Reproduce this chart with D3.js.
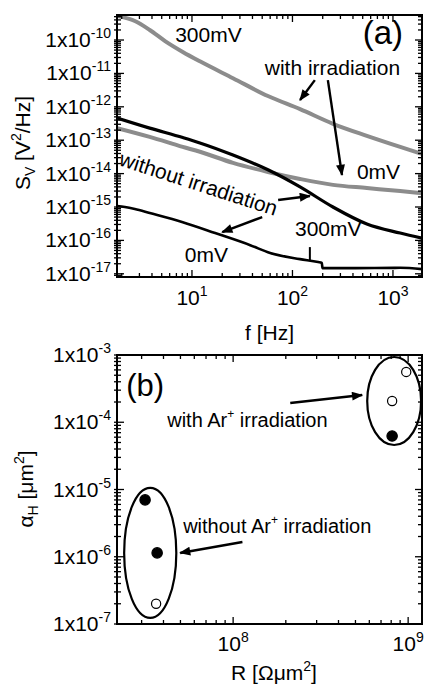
<!DOCTYPE html>
<html>
<head>
<meta charset="utf-8">
<script src="https://cdn.jsdelivr.net/npm/d3@7"></script>
<style>
  body { margin: 0; background: #fff; }
  svg { display: block; }
  text { font-family: "Liberation Sans", Arial, sans-serif; fill: #000; }
</style>
</head>
<body>
<svg width="424" height="689"></svg>
<script>
// ---- panel (a): noise spectra ----
var fGrey300 = [1.8, 2.7, 3.8, 5.4, 8.1, 12, 25.6, 57, 119, 253, 550, 1180, 1940];
var sGrey300 = [5.2e-10, 3.7e-10, 2.0e-10, 9.3e-11, 4.4e-11, 2.3e-11, 7.2e-12, 2.1e-12, 8.5e-13, 3.1e-13, 1.35e-13, 6.3e-14, 3.9e-14];

var fBlack300 = [1.8, 3.8, 8.1, 12, 25.6, 57, 119, 253, 550, 1180, 1940];
var sBlack300 = [4.6e-13, 2.3e-13, 1.2e-13, 8.3e-14, 3.6e-14, 1.3e-14, 4.0e-15, 1.0e-15, 3.1e-16, 1.66e-16, 1.17e-16];

var fGrey0 = [1.8, 3.8, 8.1, 12, 25.6, 57, 119, 253, 550, 1180, 1940];
var sGrey0 = [2.3e-13, 1.26e-13, 6.3e-14, 4.5e-14, 2.1e-14, 1.12e-14, 6.9e-15, 4.6e-15, 3.7e-15, 3.0e-15, 2.6e-15];

var fBlack0 = [1.8, 2.15, 2.7, 3.8, 8.1, 17, 38, 60, 119, 180, 196, 199, 372, 1180, 1940];
var sBlack0 = [1.07e-15, 1.0e-15, 8.7e-16, 6.6e-16, 3.5e-16, 1.66e-16, 7.2e-17, 4.2e-17, 2.75e-17, 2.24e-17, 2.1e-17, 1.48e-17, 1.48e-17, 1.51e-17, 1.38e-17];

var fTicks = [10, 100, 1000];
var sTicks = [-10, -11, -12, -13, -14, -15, -16, -17];

// annotations, in data units: [f1, s1, f2, s2]
var arrowsA = [
  [167, 6.3e-12, 119, 1.6e-12],
  [225, 6.3e-12, 311, 9.1e-15],
  [72, 1.62e-15, 149, 2.14e-15],
  [50, 5.0e-16, 20, 1.78e-16]
];
var pointerA = [149, 6.3e-17, 149, 2.57e-17];
var labelsA = [
  ["300mV", 6.8, 8.7e-11, 0],
  ["with irradiation", 53, 8.9e-12, 0],
  ["0mV", 438, 6.9e-15, 0],
  ["without irradiation", 1.84, 1.8e-14, 18],
  ["300mV", 106, 1.35e-16, 0],
  ["0mV", 8.5, 2.2e-17, 0]
];

// ---- panel (b): Hooge parameter vs RA ----
var rVals = [3.14e7, 3.68e7, 3.63e7, 9.75e8, 8.1e8, 8.1e8];
var alphaVals = [7.0e-6, 1.14e-6, 2.0e-7, 5.6e-4, 2.07e-4, 6.25e-5];
var filled = [true, true, false, false, false, true];

// ellipses: centre R, centre alpha, half width / half height in decades
var groupR = [3.36e7, 8.32e8];
var groupAlpha = [1.14e-6, 2.07e-4];
var groupW = [0.149, 0.154];
var groupH = [0.967, 0.654];

var rTicks = [1e8, 1e9];
var aTicks = [-3, -4, -5, -6, -7];

var arrowsB = [
  [2.12e8, 1.93e-4, 5.46e8, 2.54e-4],
  [1.13e8, 1.66e-6, 4.98e7, 1.14e-6]
];
var labelsB = [
  ["with Ar", 4.2e7, 8.5e-5],
  ["without Ar", 5.18e7, 2.25e-6]
];

var svg = d3.select("svg");
var left = 117, right = 422;

svg.append("defs").append("marker")
  .attr("id", "head")
  .attr("viewBox", "0 0 10 8")
  .attr("refX", 9).attr("refY", 4)
  .attr("markerUnits", "userSpaceOnUse")
  .attr("markerWidth", 13).attr("markerHeight", 9)
  .attr("orient", "auto")
  .append("path").attr("d", "M0,0L10,4L0,8Z").attr("fill", "#000");

function logTicks(scale) {
  var d = scale.domain(), out = [];
  for (var e = Math.floor(Math.log10(d[0])); e <= Math.ceil(Math.log10(d[1])); e++) {
    for (var k = 1; k < 10; k++) {
      var v = k * Math.pow(10, e);
      if (v >= Math.min(d[0], d[1]) && v <= Math.max(d[0], d[1])) out.push({v: v, major: k == 1});
    }
  }
  return out;
}

function frame(g, x, y) {
  var x0 = x.range()[0], x1 = x.range()[1], y0 = y.range()[0], y1 = y.range()[1];
  logTicks(x).forEach(function(t) {
    var len = t.major ? 7 : 4, px = x(t.v);
    g.append("line").attr("x1", px).attr("x2", px).attr("y1", y0).attr("y2", y0 - len);
    g.append("line").attr("x1", px).attr("x2", px).attr("y1", y1).attr("y2", y1 + len);
  });
  logTicks(y).forEach(function(t) {
    var len = t.major ? 7 : 4, py = y(t.v);
    g.append("line").attr("x1", x0 - 3).attr("x2", x0 + len).attr("y1", py).attr("y2", py);
    g.append("line").attr("x1", x1).attr("x2", x1 - len).attr("y1", py).attr("y2", py);
  });
  g.selectAll("line").attr("stroke", "#000").attr("stroke-width", 1.3);
  g.append("rect").attr("x", x0).attr("y", y1).attr("width", x1 - x0).attr("height", y0 - y1)
    .attr("fill", "none").attr("stroke", "#000").attr("stroke-width", 2);
}

function yLabels(g, y, exps, x0) {
  exps.forEach(function(e) {
    var t = g.append("text").attr("x", x0 - 6).attr("y", y(Math.pow(10, e)) + 7)
      .attr("text-anchor", "end").style("font-size", "21px");
    t.append("tspan").text("1x10");
    t.append("tspan").attr("dy", -9).style("font-size", "14px").text(e);
  });
}

function xLabels(g, x, vals, yb) {
  vals.forEach(function(v) {
    var t = g.append("text").attr("x", x(v)).attr("y", yb).attr("text-anchor", "middle")
      .style("font-size", "21px");
    t.append("tspan").text("10");
    t.append("tspan").attr("dy", -9).style("font-size", "14px").text(Math.round(Math.log10(v)));
  });
}

// ================= panel (a) =================
var xA = d3.scaleLog().domain([1.795, 1945]).range([left, right]);
var yA = d3.scaleLog().domain([Math.pow(10, -17.096), Math.pow(10, -9.251)]).range([277, 15]);

var gA = svg.append("g");
svg.select("defs").append("clipPath").attr("id", "clipA").append("rect")
  .attr("x", left).attr("y", 15).attr("width", right - left).attr("height", 262);

var line = d3.line().curve(d3.curveMonotoneX)
  .x(function(d) { return xA(d[0]); })
  .y(function(d) { return yA(d[1]); });

var curves = [
  {f: fGrey300, s: sGrey300, c: "#8c8c8c", w: 4},
  {f: fGrey0, s: sGrey0, c: "#8c8c8c", w: 4},
  {f: fBlack300, s: sBlack300, c: "#000", w: 3.2},
  {f: fBlack0, s: sBlack0, c: "#000", w: 2.6}
];
var plotA = gA.append("g").attr("clip-path", "url(#clipA)");
curves.forEach(function(c) {
  plotA.append("path")
    .datum(d3.zip(c.f, c.s))
    .attr("d", line)
    .attr("fill", "none").attr("stroke", c.c).attr("stroke-width", c.w)
    .attr("stroke-linejoin", "round");
});

frame(gA.append("g"), xA, yA);
yLabels(gA, yA, sTicks, left);
xLabels(gA, xA, fTicks, 305);

labelsA.forEach(function(l) {
  var px = xA(l[1]), py = yA(l[2]);
  gA.append("text").attr("x", px).attr("y", py)
    .attr("transform", l[3] ? "rotate(" + l[3] + "," + px + "," + py + ")" : null)
    .style("font-size", "21px").text(l[0]);
});
gA.append("text").attr("x", xA(500)).attr("y", yA(7.6e-11))
  .style("font-size", "33px").text("(a)");

arrowsA.forEach(function(a) {
  gA.append("line")
    .attr("x1", xA(a[0])).attr("y1", yA(a[1]))
    .attr("x2", xA(a[2])).attr("y2", yA(a[3]))
    .attr("stroke", "#000").attr("stroke-width", 2.4)
    .attr("marker-end", "url(#head)");
});
gA.append("line")
  .attr("x1", xA(pointerA[0])).attr("y1", yA(pointerA[1]))
  .attr("x2", xA(pointerA[2])).attr("y2", yA(pointerA[3]))
  .attr("stroke", "#000").attr("stroke-width", 2);

var tA = gA.append("text").attr("transform", "translate(30,143) rotate(-90)")
  .attr("text-anchor", "middle").style("font-size", "21px");
tA.append("tspan").text("S");
tA.append("tspan").attr("dy", 5).style("font-size", "14px").text("V");
tA.append("tspan").attr("dy", -5).text(" [V");
tA.append("tspan").attr("dy", -9).style("font-size", "14px").text("2");
tA.append("tspan").attr("dy", 9).text("/Hz]");

gA.append("text").attr("x", (left + right) / 2).attr("y", 340)
  .attr("text-anchor", "middle").style("font-size", "21px").text("f [Hz]");

// ================= panel (b) =================
var xB = d3.scaleLog().domain([2.17e7, 1.2e9]).range([left, right]);
var yB = d3.scaleLog().domain([1e-7, 1e-3]).range([624, 355]);
var gB = svg.append("g");

frame(gB.append("g"), xB, yB);
yLabels(gB, yB, aTicks, left);
xLabels(gB, xB, rTicks, 651);

groupR.forEach(function(r, i) {
  var cx = xB(r), cy = yB(groupAlpha[i]);
  gB.append("ellipse")
    .attr("cx", cx).attr("cy", cy)
    .attr("rx", xB(r * Math.pow(10, groupW[i])) - cx)
    .attr("ry", cy - yB(groupAlpha[i] * Math.pow(10, groupH[i])))
    .attr("fill", "none").attr("stroke", "#000").attr("stroke-width", 2.2);
});

gB.selectAll("circle.pt")
  .data(d3.range(rVals.length))
  .enter().append("circle")
  .attr("class", "pt")
  .attr("cx", function(i) { return xB(rVals[i]); })
  .attr("cy", function(i) { return yB(alphaVals[i]); })
  .attr("r", function(i) { return filled[i] ? 5.2 : 4.6; })
  .attr("fill", function(i) { return filled[i] ? "#000" : "#fff"; })
  .attr("stroke", "#000").attr("stroke-width", 1.2);

arrowsB.forEach(function(a) {
  gB.append("line")
    .attr("x1", xB(a[0])).attr("y1", yB(a[1]))
    .attr("x2", xB(a[2])).attr("y2", yB(a[3]))
    .attr("stroke", "#000").attr("stroke-width", 2.6)
    .attr("marker-end", "url(#head)");
});

labelsB.forEach(function(l) {
  var t = gB.append("text").attr("x", xB(l[1])).attr("y", yB(l[2])).style("font-size", "20px");
  t.append("tspan").text(l[0]);
  t.append("tspan").attr("dy", -9).style("font-size", "12px").text("+");
  t.append("tspan").attr("dy", 9).text(" irradiation");
});
gB.append("text").attr("x", xB(2.45e7)).attr("y", yB(2.45e-4))
  .style("font-size", "31px").text("(b)");

var tB = gB.append("text").attr("transform", "translate(33,489) rotate(-90)")
  .attr("text-anchor", "middle").style("font-size", "21px");
tB.append("tspan").text("\u03b1");
tB.append("tspan").attr("dy", 5).style("font-size", "14px").text("H");
tB.append("tspan").attr("dy", -5).text(" [\u03bcm");
tB.append("tspan").attr("dy", -9).style("font-size", "14px").text("2");
tB.append("tspan").attr("dy", 9).text("]");

var tR = gB.append("text").attr("x", 274).attr("y", 680)
  .attr("text-anchor", "middle").style("font-size", "21px");
tR.append("tspan").text("R [\u03a9\u03bcm");
tR.append("tspan").attr("dy", -9).style("font-size", "14px").text("2");
tR.append("tspan").attr("dy", 9).text("]");
</script>
</body>
</html>
